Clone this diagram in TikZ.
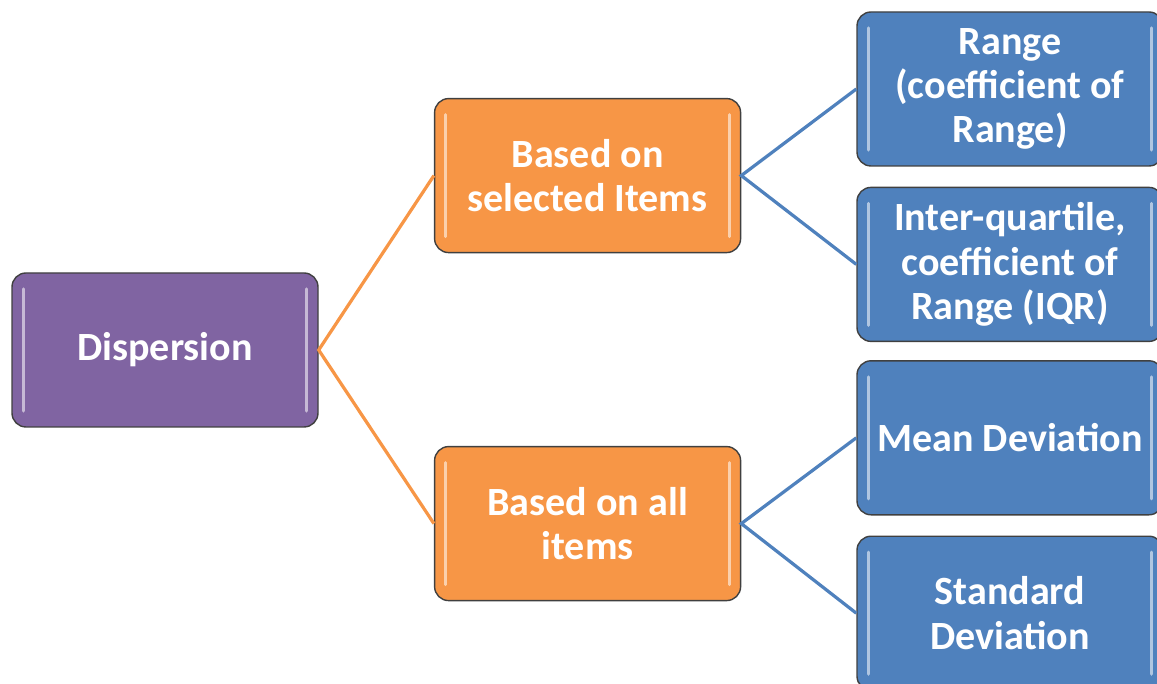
\documentclass[tikz,border=0pt]{standalone}
\usepackage{fontspec}
\setmainfont{Carlito}
\usetikzlibrary{positioning}

\definecolor{disppurple}{HTML}{8064A2}
\definecolor{disporange}{HTML}{F79646}
\definecolor{dispblue}{HTML}{4F81BD}

\begin{document}
\begin{tikzpicture}[
 box/.style={draw=black!75,line width=1pt,fill=#1,rounded corners=0.35cm,minimum width=7.65cm,minimum height=3.85cm,align=center,text=white,font=\fontsize{28.5}{31.5}\selectfont\bfseries,
  path picture={\draw[#1!45!white,line width=2.2pt,line cap=round]([shift={(0.28,-0.4)}]path picture bounding box.north west)--([shift={(0.28,0.4)}]path picture bounding box.south west);
   \draw[#1!45!white,line width=2.2pt,line cap=round]([shift={(-0.28,-0.4)}]path picture bounding box.north east)--([shift={(-0.28,0.4)}]path picture bounding box.south east);}},
 link/.style={draw=#1,line width=2.3pt}
]
 \useasboundingbox (0,0) rectangle (28.925,17.1);
 \node[box=disppurple] (disp) at (4.125,8.35) {Dispersion};
 \node[box=disporange] (sel) at (14.69,12.71) {Based on\\selected Items};
 \node[box=disporange] (all) at (14.69,4.01) {Based on all\\items};
 \node[box=dispblue] (range) at (25.25,14.875) {Range\\(coefficient of\\Range)};
 \node[box=dispblue,below=0.5cm of range] (iqr) {Inter-quartile,\\coefficient of\\Range (IQR)};
 \node[box=dispblue,below=0.45cm of iqr] (mean) {Mean Deviation};
 \node[box=dispblue,below=0.5cm of mean] (std) {Standard\\Deviation};
 \draw[link=disporange] (sel.west)--(disp.east)--(all.west);
 \draw[link=dispblue] (range.west)--(sel.east)--(iqr.west);
 \draw[link=dispblue] (mean.west)--(all.east)--(std.west);
\end{tikzpicture}
\end{document}
